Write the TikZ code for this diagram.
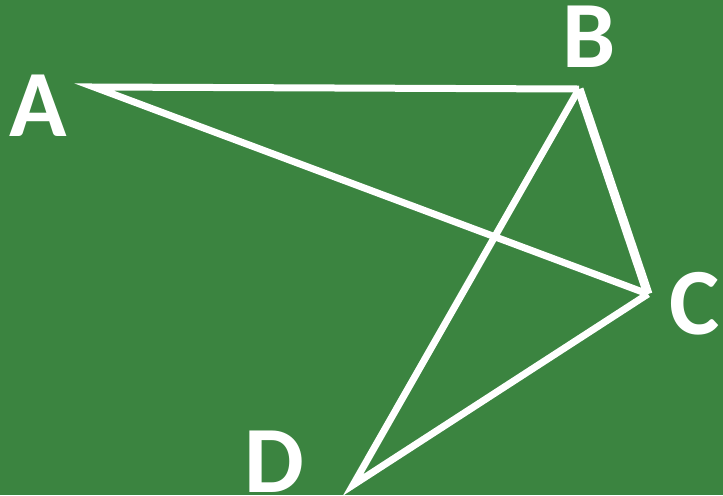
\documentclass[tikz,border=0pt]{standalone}
\usepackage{fontspec}
\setmainfont{Carlito}
\definecolor{boardgreen}{RGB}{59,132,64}

\begin{document}
\begin{tikzpicture}[
  x=0.02cm, y=-0.02cm,
  edge/.style={draw=white, line width=0.14cm, miter limit=20},
  thick edge/.style={edge, line width=0.18cm},
  lbl/.style={text=white, font=\fontsize{54}{60}\selectfont\bfseries, inner sep=0pt}
]
\fill[boardgreen] (0,0) rectangle (723,495);
\useasboundingbox (0,0) rectangle (723,495);

\coordinate (A) at (94,87);
\coordinate (B) at (579,89);
\coordinate (C) at (648,294);
\coordinate (D) at (353,485);

\node[lbl] (la) at (38,106) {A};
\node[lbl] (lb) at (589,37) {B};
\node[lbl] (lc) at (695,304) {C};
\node[lbl] (ld) at (274,462) {D};

\draw[edge] (C) -- (A) -- (B);
\draw[thick edge] (B) -- (C);
\draw[edge] (B) -- (D) -- (C);

\end{tikzpicture}
\end{document}
